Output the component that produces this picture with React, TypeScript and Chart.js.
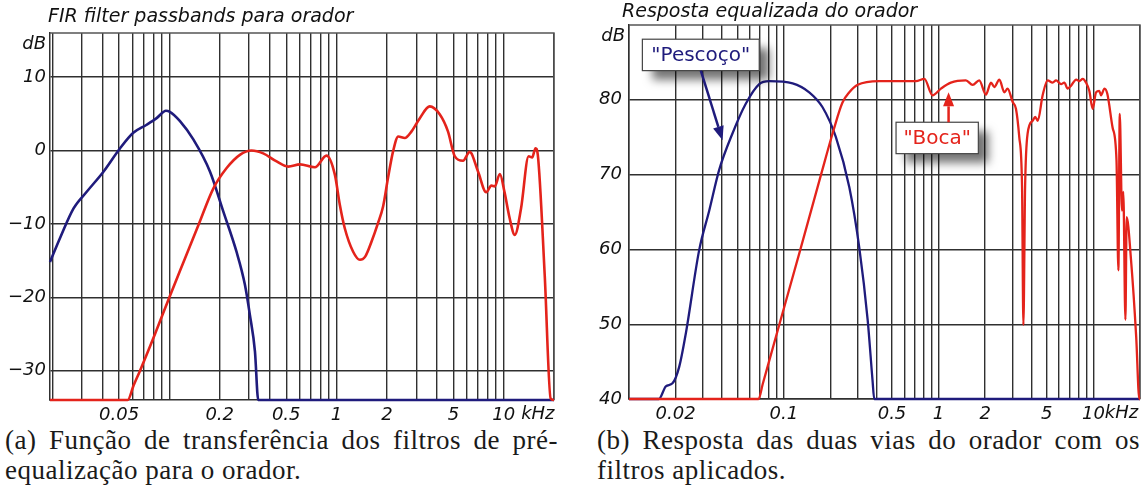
import React, { useEffect, useRef } from 'react';
import { Chart, registerables } from 'chart.js';

Chart.register(...registerables);

// ---- styling -------------------------------------------------------------
const NECK_COLOR = '#1f1b7c';
const MOUTH_COLOR = '#e4231b';
const GRID_COLOR = '#303030';
const FRAME_COLOR = '#555555';
const SANS = '"DejaVu Sans"';

// ---- axes ----------------------------------------------------------------
// vertical grid lines (kHz)
const gridFreqs = [
  0.01, 0.02, 0.03, 0.04, 0.05, 0.06, 0.07, 0.08, 0.09,
  0.1, 0.2, 0.3, 0.4, 0.5, 0.6, 0.7, 0.8, 0.9,
  1, 2, 3, 4, 5, 6, 7, 8, 9,
  10, 20,
];
const firFreqLabels = [0.05, 0.2, 0.5, 1, 2, 5, 10];
const eqFreqLabels = [0.02, 0.1, 0.5, 1, 2, 5, 10];
const firDbTicks = [-30, -20, -10, 0, 10];
const eqDbTicks = [40, 50, 60, 70, 80];

// ---- (a) FIR filter passbands ---------------------------------------------
const firNeckFreq = [
  0.0193, 0.0222, 0.0267, 0.0321, 0.0403, 0.0507, 0.0608, 0.0731, 0.0839, 0.0954,
  0.1, 0.1157, 0.139, 0.175, 0.21, 0.252, 0.283, 0.303, 0.325, 0.34, 20,
];
const firNeckDb = [
  -15.2, -11.9, -7.9, -5.6, -2.9, 0.3, 2.4, 3.5, 4.4, 5.4,
  5.3, 4.0, 1.5, -2.9, -8.3, -13.8, -18.3, -22.4, -27.4, -34, -34,
];

const firMouthFreq = [
  0.0193, 0.0563, 0.0611, 0.0667, 0.082, 0.1, 0.121, 0.149, 0.183, 0.22,
  0.264, 0.31, 0.364, 0.438, 0.514, 0.604, 0.742, 0.871, 0.977, 1.046,
  1.12, 1.257, 1.38, 1.48, 1.62, 1.77, 1.9, 2.03, 2.18, 2.34,
  2.56, 2.81, 3.15, 3.61, 4.15, 4.64, 5.1, 5.71, 6.26, 7.03,
  7.86, 8.44, 8.84, 9.49, 10.1, 10.85, 11.65, 12.7, 14.1, 14.8,
  15.5, 16.0, 17.6, 19.1, 20,
];
const firMouthDb = [
  -34, -34, -32, -30, -25, -20, -15.3, -10.2, -5.2, -2.4,
  -0.6, 0, -0.4, -1.5, -2.2, -1.9, -2.3, -0.7, -3.3, -7.4,
  -10.6, -13.8, -14.9, -14.5, -12.4, -9.9, -7.6, -3.8, -0.1, 1.9,
  1.7, 2.6, 4.4, 6.0, 4.9, 2.6, -0.8, -1.4, -0.2, -2.9,
  -5.7, -4.8, -4.9, -3.2, -5.6, -9.2, -11.5, -7.9, -0.8, -0.95,
  0.3, -0.6, -17, -33.8, -34,
];

// ---- (b) equalized response ------------------------------------------------
const eqNeckFreq = [
  0.01, 0.0156, 0.0173, 0.0191, 0.0211, 0.0233, 0.0284, 0.033, 0.0382, 0.0466,
  0.0569, 0.0694, 0.0805, 0.114, 0.146, 0.178, 0.217, 0.265, 0.307, 0.348,
  0.374, 0.384, 20,
];
const eqNeckDb = [
  40, 40, 41.7, 42.1, 44.3, 48.8, 59.9, 65.2, 70.6, 75.5,
  79.5, 82.1, 82.5, 82.2, 81.0, 79.0, 75.0, 68.3, 60.3, 50.6,
  42.6, 40, 40,
];

const eqMouthFreq = [
  0.01, 0.0687, 0.0731, 0.0937, 0.128, 0.174, 0.21, 0.239, 0.265, 0.3,
  0.414, 0.714, 0.809, 0.914, 1.036, 1.2, 1.5, 1.66, 1.83, 2.02,
  2.18, 2.29, 2.47, 2.66, 2.79, 3.01, 3.16, 3.32, 3.46, 3.53,
  3.62, 3.76, 4.05, 4.21, 4.37, 4.7, 5.06, 5.45, 5.74, 6.18,
  6.49, 6.82, 7.18, 7.74, 8.12, 8.53, 8.96, 9.41, 9.89, 10.4,
  10.9, 11.2, 11.8, 12.3, 13.3, 14.1, 14.5, 14.8, 15.3, 15.6,
  16.1, 16.4, 17.5, 18.9, 19.8, 20,
];
const eqMouthDb = [
  40, 40, 42, 50, 60, 70, 76, 79.6, 81.0, 82.0,
  82.5, 82.5, 82.8, 80.6, 81.5, 82.3, 82.6, 82.0, 82.6, 80.7,
  82.3, 81.7, 82.7, 81.0, 81.5, 79.7, 78.8, 75.0, 68.3, 49.9,
  68.3, 75.5, 77.2, 77.7, 77.2, 80.6, 82.6, 82.3, 82.6, 82.1,
  82.3, 81.5, 81.9, 82.7, 82.5, 82.8, 82.3, 81.2, 78.8, 81.0,
  81.2, 80.6, 81.5, 80.8, 76.3, 71.9, 57.2, 78.1, 65.2, 67.7,
  50.6, 64.3, 58.6, 48.3, 40, 40,
];

// callout boxes on the equalized response: [f left, f right, dB top, dB bottom]
type Callout = {
  text: string;
  color: string;
  box: [number, number, number, number];
  arrowFrom: [number, number];
  arrowTo: [number, number];
};
const callouts: Callout[] = [
  { text: '"Pescoço"', color: NECK_COLOR, box: [0.0122, 0.0694, 88.1, 83.9], arrowFrom: [0.0291, 83.9], arrowTo: [0.0402, 74.6] },
  { text: '"Boca"', color: MOUTH_COLOR, box: [0.531, 1.806, 77.0, 72.8], arrowFrom: [1.16, 77.0], arrowTo: [1.16, 81.0] },
];

const toPoints = (xs: number[], ys: number[]) => xs.map((x, i) => ({ x, y: ys[i] }));
const fmtNum = (v: number) => String(v).replace('-', '\u2212');

type PanelCfg = {
  title: string;
  titleX: number;
  titleY: number;
  dbLabelY: number;
  unitText: string;
  unitGap: number;
  xMin: number;
  xMax: number;
  yMin: number;
  yMax: number;
  xLabels: number[];
  yTicks: number[];
  padding: { top: number; right: number; left: number; bottom: number };
  yWidth: number;
  xHeight: number;
  yPad: number;
  lineWidth: number;
  withCallouts: boolean;
};

function framePlugin(cfg: PanelCfg) {
  return {
    id: 'frameAndText',
    beforeDatasetsDraw(chart: any) {
      const { ctx, chartArea: a } = chart;
      ctx.save();
      ctx.strokeStyle = FRAME_COLOR;
      ctx.lineWidth = 1.4;
      ctx.beginPath();
      ctx.moveTo(a.left, a.top);
      ctx.lineTo(a.right, a.top);
      ctx.lineTo(a.right, a.bottom);
      ctx.stroke();
      ctx.restore();
    },
    afterDraw(chart: any) {
      const { ctx, chartArea: a, scales } = chart;
      ctx.save();
      ctx.fillStyle = '#111';
      ctx.font = `italic 19px ${SANS}`;
      ctx.textAlign = 'left';
      ctx.textBaseline = 'middle';
      ctx.fillText(cfg.title, cfg.titleX, cfg.titleY);

      ctx.font = `italic 18px ${SANS}`;
      ctx.textAlign = 'right';
      ctx.fillText('dB', a.left - 4, cfg.dbLabelY);

      // unit after the "10" tick label
      const x10 = scales.x.getPixelForValue(10);
      const half = ctx.measureText('10').width / 2;
      ctx.textAlign = 'left';
      ctx.textBaseline = 'top';
      ctx.fillText(cfg.unitText, x10 + half + cfg.unitGap, a.bottom + 5);
      ctx.restore();
    },
    afterDatasetsDraw(chart: any) {
      if (!cfg.withCallouts) return;
      const { ctx, scales } = chart;
      const sx = scales.x;
      const sy = scales.y;
      for (const c of callouts) {
        const x0 = sx.getPixelForValue(c.box[0]);
        const x1 = sx.getPixelForValue(c.box[1]);
        const y0 = sy.getPixelForValue(c.box[2]);
        const y1 = sy.getPixelForValue(c.box[3]);
        ctx.save();
        // soft drop shadow
        ctx.shadowColor = 'rgba(0,0,0,0.55)';
        ctx.shadowBlur = 10;
        ctx.shadowOffsetX = 10;
        ctx.shadowOffsetY = 9;
        ctx.fillStyle = '#fff';
        ctx.fillRect(x0, y0, x1 - x0, y1 - y0);
        ctx.restore();

        ctx.save();
        ctx.fillStyle = '#fff';
        ctx.fillRect(x0, y0, x1 - x0, y1 - y0);
        ctx.strokeStyle = '#444';
        ctx.lineWidth = 1.2;
        ctx.strokeRect(x0, y0, x1 - x0, y1 - y0);
        ctx.fillStyle = c.color;
        ctx.font = `20px ${SANS}`;
        ctx.textAlign = 'center';
        ctx.textBaseline = 'middle';
        ctx.fillText(c.text, (x0 + x1) / 2, (y0 + y1) / 2 + 1);

        // arrow
        const ax0 = sx.getPixelForValue(c.arrowFrom[0]);
        const ay0 = sy.getPixelForValue(c.arrowFrom[1]);
        const ax1 = sx.getPixelForValue(c.arrowTo[0]);
        const ay1 = sy.getPixelForValue(c.arrowTo[1]);
        const ang = Math.atan2(ay1 - ay0, ax1 - ax0);
        const headLen = 14;
        const headHalf = 5.5;
        const bx = ax1 - headLen * Math.cos(ang);
        const by = ay1 - headLen * Math.sin(ang);
        ctx.strokeStyle = c.color;
        ctx.lineWidth = 2.5;
        ctx.beginPath();
        ctx.moveTo(ax0, ay0);
        ctx.lineTo(bx, by);
        ctx.stroke();
        ctx.fillStyle = c.color;
        ctx.beginPath();
        ctx.moveTo(ax1, ay1);
        ctx.lineTo(bx + headHalf * Math.sin(ang), by - headHalf * Math.cos(ang));
        ctx.lineTo(bx - headHalf * Math.sin(ang), by + headHalf * Math.cos(ang));
        ctx.closePath();
        ctx.fill();
        ctx.restore();
      }
    },
  };
}

function buildChart(canvas: HTMLCanvasElement, cfg: PanelCfg, neck: { x: number; y: number }[], mouth: { x: number; y: number }[]) {
  const tickFont = { family: SANS, size: 18, style: 'italic' as const };
  return new Chart(canvas, {
    type: 'line',
    data: {
      datasets: [
        { label: 'Boca', data: mouth, borderColor: MOUTH_COLOR, borderWidth: cfg.lineWidth, clip: 6 } as any,
        { label: 'Pescoço', data: neck, borderColor: NECK_COLOR, borderWidth: cfg.lineWidth, clip: 6 } as any,
      ],
    },
    options: {
      animation: false,
      responsive: false,
      maintainAspectRatio: false,
      layout: { padding: cfg.padding },
      elements: {
        point: { radius: 0 },
        line: { cubicInterpolationMode: 'monotone', fill: false },
      },
      plugins: {
        legend: { display: false },
        tooltip: { enabled: false },
        title: { display: false },
      },
      scales: {
        x: {
          type: 'logarithmic',
          min: cfg.xMin,
          max: cfg.xMax,
          afterBuildTicks: (s: any) => {
            s.ticks = gridFreqs
              .filter((f) => f >= cfg.xMin - 1e-9 && f <= cfg.xMax + 1e-9)
              .map((v) => ({ value: v }));
          },
          afterFit: (s: any) => {
            s.height = cfg.xHeight;
          },
          ticks: {
            autoSkip: false,
            maxRotation: 0,
            minRotation: 0,
            padding: 5,
            color: '#111',
            font: tickFont,
            callback: (v: any) => (cfg.xLabels.includes(Number(v)) ? fmtNum(Number(v)) : ''),
          },
          grid: { color: GRID_COLOR, lineWidth: 1.4, drawTicks: false },
          border: { color: GRID_COLOR, width: 1.5 },
        },
        y: {
          type: 'linear',
          min: cfg.yMin,
          max: cfg.yMax,
          afterBuildTicks: (s: any) => {
            s.ticks = cfg.yTicks.map((v) => ({ value: v }));
          },
          afterFit: (s: any) => {
            s.width = cfg.yWidth;
          },
          ticks: {
            padding: cfg.yPad,
            color: '#111',
            font: tickFont,
            callback: (v: any) => fmtNum(Number(v)),
          },
          grid: { color: GRID_COLOR, lineWidth: 1.4, drawTicks: false },
          border: { color: GRID_COLOR, width: 1.5 },
        },
      },
    } as any,
    plugins: [framePlugin(cfg)],
  });
}

const firCfg: PanelCfg = {
  title: 'FIR filter passbands para orador',
  titleX: 48,
  titleY: 17,
  dbLabelY: 44,
  unitText: 'kHz',
  unitGap: 6,
  xMin: 0.0193,
  xMax: 20,
  yMin: -34,
  yMax: 16,
  xLabels: firFreqLabels,
  yTicks: firDbTicks,
  padding: { top: 33, right: 16, left: 0, bottom: 0 },
  yWidth: 50,
  xHeight: 25,
  yPad: 4,
  lineWidth: 2.6,
  withCallouts: false,
};

const eqCfg: PanelCfg = {
  title: 'Resposta equalizada do orador',
  titleX: 46,
  titleY: 12,
  dbLabelY: 36,
  unitText: 'kHz',
  unitGap: 0,
  xMin: 0.01,
  xMax: 20,
  yMin: 40,
  yMax: 90,
  xLabels: eqFreqLabels,
  yTicks: eqDbTicks,
  padding: { top: 25, right: 6, left: 0, bottom: 0 },
  yWidth: 53,
  xHeight: 26,
  yPad: 7,
  lineWidth: 2.3,
  withCallouts: true,
};

const captionStyle: React.CSSProperties = {
  position: 'absolute',
  top: 425,
  fontFamily: '"Liberation Serif", serif',
  fontSize: 27,
  letterSpacing: '0.5px',
  lineHeight: '30px',
  color: '#1a1a1a',
  whiteSpace: 'nowrap',
};

export default function App() {
  const leftRef = useRef<HTMLCanvasElement>(null);
  const rightRef = useRef<HTMLCanvasElement>(null);

  useEffect(() => {
    const left = buildChart(leftRef.current!, firCfg, toPoints(firNeckFreq, firNeckDb), toPoints(firMouthFreq, firMouthDb));
    const right = buildChart(rightRef.current!, eqCfg, toPoints(eqNeckFreq, eqNeckDb), toPoints(eqMouthFreq, eqMouthDb));
    return () => {
      left.destroy();
      right.destroy();
    };
  }, []);

  return (
    <div style={{ position: 'absolute', left: 0, top: 0, width: 1146, height: 493, background: '#fff', overflow: 'hidden' }}>
      <canvas ref={leftRef} width={570} height={425} style={{ position: 'absolute', left: 0, top: 0, width: 570, height: 425 }} />
      <canvas ref={rightRef} width={570} height={425} style={{ position: 'absolute', left: 576, top: 0, width: 570, height: 425 }} />
      <div style={{ ...captionStyle, left: 5, width: 553 }}>
        <div style={{ textAlign: 'justify', textAlignLast: 'justify' }}>(a) Função de transferência dos filtros de pré-</div>
        <div>equalização para o orador.</div>
      </div>
      <div style={{ ...captionStyle, left: 597, width: 543 }}>
        <div style={{ textAlign: 'justify', textAlignLast: 'justify' }}>(b) Resposta das duas vias do orador com os</div>
        <div>filtros aplicados.</div>
      </div>
    </div>
  );
}
